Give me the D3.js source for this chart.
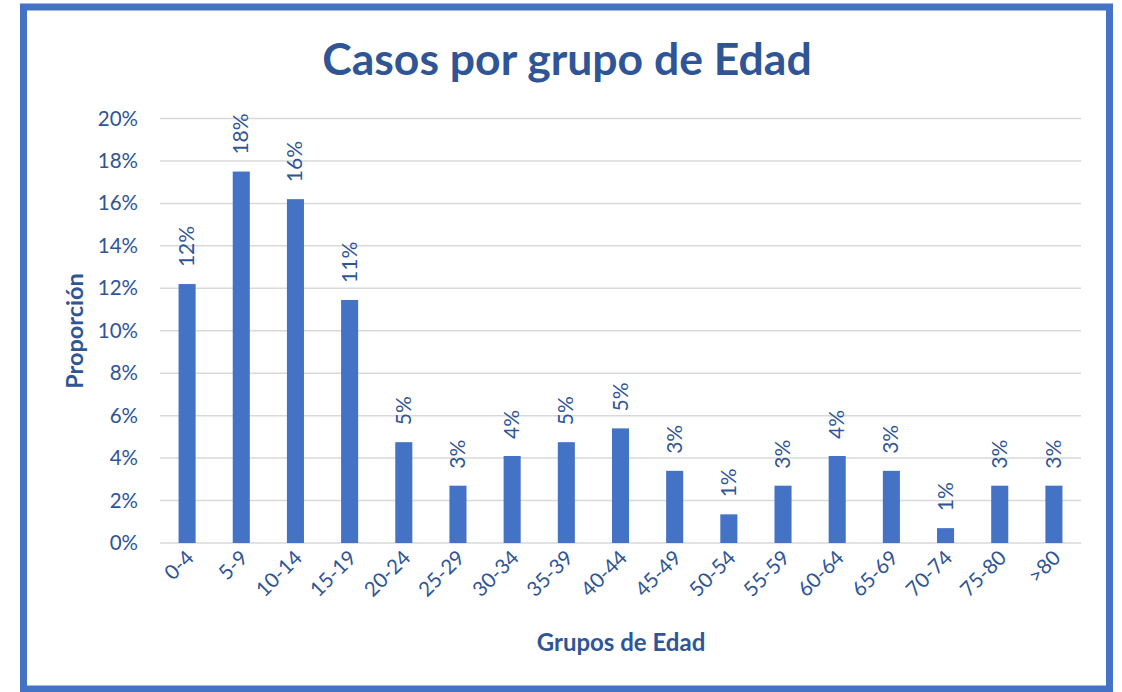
<!DOCTYPE html>
<html>
<head>
<meta charset="utf-8">
<script src="https://cdn.jsdelivr.net/npm/d3@7"></script>
<style>
  body { margin: 0; background: #fff; }
  svg { display: block; }
</style>
</head>
<body>
<svg id="chart" width="1122" height="692"></svg>
<script>
// data
const groups = ["0-4", "5-9", "10-14", "15-19", "20-24", "25-29", "30-34", "35-39", "40-44",
  "45-49", "50-54", "55-59", "60-64", "65-69", "70-74", "75-80", ">80"];
const proportion = [12.2, 17.5, 16.2, 11.45, 4.75, 2.7, 4.1, 4.75, 5.4, 3.4, 1.35, 2.7, 4.1, 3.4, 0.7, 2.7, 2.7];
const yTicks = [0, 2, 4, 6, 8, 10, 12, 14, 16, 18, 20];

const svgWidth = 1122;
const svgHeight = 692;
const barColor = "#4472C4";
const textColor = "#2F5597";
const gridColor = "#D9D9D9";
const font = "Lato, 'Open Sans', sans-serif";

let svg = d3.select("#chart");

// frame
svg.append("rect")
  .attr("x", 23.5)
  .attr("y", 7)
  .attr("width", 1086)
  .attr("height", 682)
  .attr("fill", "#fff")
  .attr("stroke", barColor)
  .attr("stroke-width", 7);

let x = d3.scaleBand()
  .domain(groups)
  .range([160, 1081])
  .paddingInner(0.685)
  .paddingOuter(0.3425);
let y = d3.scaleLinear()
  .domain([0, 20])
  .range([543, 118.5]);

// gridlines
svg.append("g")
  .selectAll("line")
  .data(yTicks)
  .enter()
  .append("line")
  .attr("x1", 160)
  .attr("x2", 1081)
  .attr("y1", d => y(d))
  .attr("y2", d => y(d))
  .style("stroke", gridColor)
  .style("stroke-width", 1.5);

// y axis labels
svg.append("g")
  .attr("transform", "translate(150,0)")
  .style("font-family", font)
  .style("font-size", 20.5)
  .call(d3.axisLeft(y).tickValues(yTicks).tickFormat(d => d + "%").tickSize(0).tickPadding(12))
  .call(g => g.select(".domain").remove())
  .selectAll("text")
  .style("fill", textColor);

// bars
svg.selectAll(".bar")
  .data(groups)
  .enter()
  .append("rect")
  .attr("class", "bar")
  .attr("x", d => x(d))
  .attr("y", (d, i) => y(proportion[i]))
  .attr("width", x.bandwidth())
  .attr("height", (d, i) => y(0) - y(proportion[i]))
  .style("fill", barColor);

// value labels, rotated
svg.selectAll(".val")
  .data(groups)
  .enter()
  .append("text")
  .attr("class", "val")
  .attr("transform", (d, i) => "translate(" + (x(d) + x.bandwidth() / 2 + 7) + "," + (y(proportion[i]) - 17) + ") rotate(-90)")
  .text((d, i) => Math.round(proportion[i]) + "%")
  .style("font-family", font)
  .style("font-size", 21)
  .style("fill", textColor);

// x axis labels, rotated -45
svg.append("g")
  .attr("transform", "translate(0,543)")
  .style("font-family", font)
  .style("font-size", 20.5)
  .call(d3.axisBottom(x).tickSize(0).tickFormat(d => d))
  .call(g => g.select(".domain").remove())
  .selectAll("text")
  .attr("text-anchor", "end")
  .attr("dy", null)
  .attr("y", 0)
  .attr("transform", "translate(8,16) rotate(-45)")
  .style("fill", textColor);

// titles
svg.append("text")
  .attr("x", 567)
  .attr("y", 75)
  .attr("text-anchor", "middle")
  .text("Casos por grupo de Edad")
  .style("font-family", font)
  .style("font-weight", "bold")
  .style("font-size", 44.5)
  .style("fill", textColor);

svg.append("text")
  .attr("x", -331)
  .attr("y", 83)
  .attr("text-anchor", "middle")
  .attr("transform", "rotate(-90)")
  .text("Proporción")
  .style("font-family", font)
  .style("font-weight", "bold")
  .style("font-size", 23.5)
  .style("fill", textColor);

svg.append("text")
  .attr("x", 621)
  .attr("y", 651)
  .attr("text-anchor", "middle")
  .text("Grupos de Edad")
  .style("font-family", font)
  .style("font-weight", "bold")
  .style("font-size", 24)
  .style("fill", textColor);
</script>
</body>
</html>
